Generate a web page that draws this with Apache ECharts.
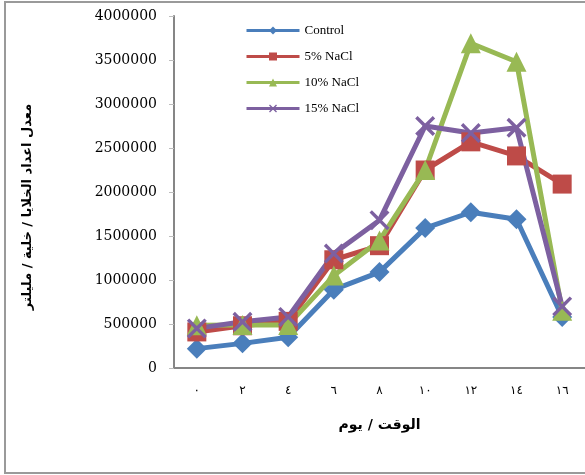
<!DOCTYPE html>
<html>
<head>
<meta charset="utf-8">
<script src="https://cdn.jsdelivr.net/npm/echarts@6/dist/echarts.min.js"></script>
<style>
  html, body { margin: 0; padding: 0; background: #ffffff; }
  #chart { width: 585px; height: 475px; }
</style>
</head>
<body>
<div id="chart"></div>
<script>
// Days of culture (Arabic-Indic numerals)
const days = ['٠', '٢', '٤', '٦', '٨', '١٠', '١٢', '١٤', '١٦'];

// Mean cell counts (cells / ml) per treatment
const control = [220000, 280000, 350000, 890000, 1090000, 1590000, 1770000, 1690000, 580000];
const nacl5   = [410000, 480000, 530000, 1230000, 1390000, 2250000, 2570000, 2410000, 2090000];
const nacl10  = [485000, 490000, 490000, 1050000, 1450000, 2250000, 3690000, 3480000, 650000];
const nacl15  = [450000, 525000, 580000, 1300000, 1680000, 2750000, 2670000, 2730000, 700000];

const seriesNames = ['Control', '5% NaCl', '10% NaCl', '15% NaCl'];

const xTitle = 'الوقت / يوم';
const yTitle = 'معدل اعداد الخلايا / خلية / مليلتر';

const crossPath = 'path://M0,1.2L1.2,0L5,3.8L8.8,0L10,1.2L6.2,5L10,8.8L8.8,10L5,6.2L1.2,10L0,8.8L3.8,5Z';

function lineSeries(name, data, color, symbol, size) {
  return {
    name: name,
    type: 'line',
    data: data,
    symbol: symbol,
    symbolSize: size,
    lineStyle: { color: color, width: 5 },
    itemStyle: { color: color },
    emphasis: { disabled: true },
    animation: false
  };
}

const chart = echarts.init(document.getElementById('chart'), null, { renderer: 'canvas' });

chart.setOption({
  backgroundColor: '#ffffff',
  animation: false,
  graphic: [{
    type: 'rect',
    shape: { x: 5, y: 2, width: 640, height: 471 },
    style: { fill: 'none', stroke: '#9a9a9a', lineWidth: 2 },
    silent: true
  }],
  grid: { left: 174, top: 16, right: 0, bottom: 107, containLabel: false },
  legend: {
    orient: 'vertical',
    left: 240,
    top: 19,
    itemWidth: 53,
    itemHeight: 10,
    itemGap: 13,
    lineStyle: { width: 3 },
    textStyle: { fontFamily: 'Liberation Serif', fontSize: 13, color: '#000000' },
    data: seriesNames
  },
  xAxis: {
    type: 'category',
    data: days,
    boundaryGap: true,
    axisLine: { lineStyle: { color: '#868686', width: 2 } },
    axisTick: { show: false },
    axisLabel: { margin: 17, fontFamily: 'DejaVu Sans', fontSize: 12, color: '#000000' },
    name: xTitle,
    nameLocation: 'middle',
    nameGap: 50,
    nameTextStyle: { fontFamily: 'DejaVu Sans', fontWeight: 'bold', fontSize: 14, color: '#000000' }
  },
  yAxis: {
    type: 'value',
    min: 0,
    max: 4000000,
    interval: 500000,
    splitLine: { show: false },
    axisLine: { show: true, lineStyle: { color: '#868686', width: 2 } },
    axisTick: { show: true, length: 5, lineStyle: { color: '#bdbdbd' } },
    axisLabel: {
      margin: 17,
      fontFamily: 'DejaVu Serif',
      fontSize: 14,
      color: '#000000',
      formatter: function (v) { return String(v); }
    },
    name: yTitle,
    nameLocation: 'middle',
    nameRotate: 90,
    nameGap: 140,
    nameTextStyle: {
      fontFamily: 'DejaVu Sans',
      fontWeight: 'bold',
      fontSize: 13,
      color: '#000000',
      padding: [0, 30, 0, 0]
    }
  },
  series: [
    lineSeries(seriesNames[0], control, '#4a7ebb', 'diamond', 20),
    lineSeries(seriesNames[1], nacl5, '#be4b48', 'rect', 19),
    lineSeries(seriesNames[2], nacl10, '#98b954', 'triangle', 20),
    lineSeries(seriesNames[3], nacl15, '#7d60a0', crossPath, 20)
  ]
});
</script>
</body>
</html>
